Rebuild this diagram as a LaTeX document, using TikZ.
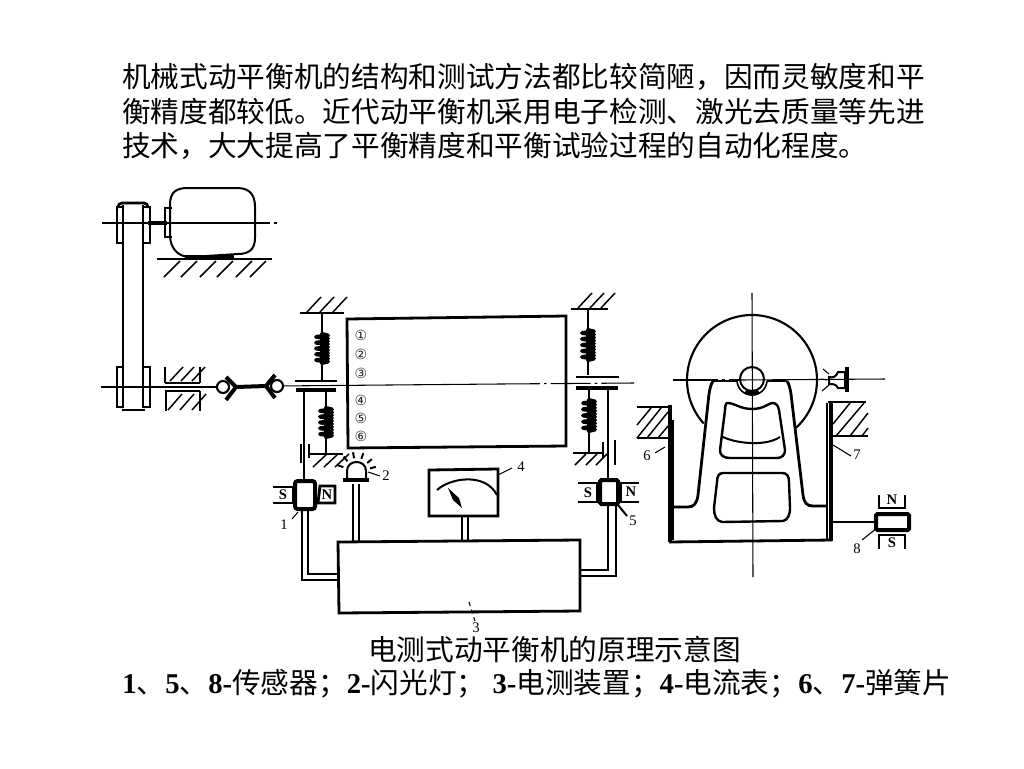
\documentclass[tikz,border=0pt]{standalone}
\usepackage{fontspec}
\setmainfont{Liberation Serif}
\newfontfamily\cjk{Noto Sans CJK SC}
\newfontfamily\djfont{DejaVu Sans}
\usetikzlibrary{calc}
\tikzset{
  x=0.75pt,y=-0.75pt,
  thinl/.style={line width=0.8pt,black},
  med/.style={line width=1.5pt,black},
  thick1/.style={line width=2.1pt,black},
  heavy/.style={line width=3pt,black},
  hatchl/.style={line width=1.1pt,black},
  axisl/.style={line width=0.8pt,black},
  dashax/.style={line width=0.8pt,black,dash pattern=on 60pt off 3pt on 2pt off 3pt},
  coil/.style={line width=3pt,black,line join=round,line cap=round},
  lab/.style={font=\fontsize{11}{12}\selectfont,inner sep=0pt},
  mag/.style={font=\fontsize{11}{12}\bfseries\selectfont,inner sep=0pt},
  circn/.style={font=\djfont\fontsize{10.5}{11}\selectfont,inner sep=0pt,text=black!85},
  body/.style={font=\fontsize{21.5}{24}\selectfont,inner sep=0pt,anchor=west},
}
% spring: x, ytop, ybottom
\newcommand{\mspring}[3]{%
  \draw[coil] ({#1},{#2})
    \foreach \k in {0,1,2,3,4}{ -- ({#1+6},{#2+(\k+0.25)*(#3-#2)/5}) -- ({#1-6},{#2+(\k+0.5)*(#3-#2)/5}) -- ({#1+6},{#2+(\k+0.75)*(#3-#2)/5}) -- ({#1},{#2+(\k+1)*(#3-#2)/5}) };
}
% hatch: list of x bottoms, y bottom, dx, dy
\newcommand{\mhatch}[4]{%
  \foreach \hx in {#1}{\draw[hatchl] (\hx,#2) -- ++(#3,#4);}
}
\begin{document}
\begin{tikzpicture}
\useasboundingbox (0,0) rectangle (1024,768);
\fill[white] (0,0) rectangle (1024,768);

% ---- text
\node[body] (t1) at (122,77) {\cjk 机械式动平衡机的结构和测试方法都比较简陋，因而灵敏度和平};
\node[body] (t2) at (122,112) {\cjk 衡精度都较低。近代动平衡机采用电子检测、激光去质量等先进};
\node[body] (t3) at (122,146) {\cjk 技术，大大提高了平衡精度和平衡试验过程的自动化程度。};
\node[body] (cap) at (368,649) {\cjk 电测式动平衡机的原理示意图};
\node[body] (leg) at (122,684) {\textbf{1}{\cjk 、}\textbf{5}{\cjk 、}\textbf{8-}{\cjk 传感器；}\textbf{2-}{\cjk 闪光灯；} \textbf{3-}{\cjk 电测装置；}\textbf{4-}{\cjk 电流表；}\textbf{6}{\cjk 、}\textbf{7-}{\cjk 弹簧片}};

% ---- motor and belt
\draw[med] (170,205) .. controls (170,192) and (176,188) .. (188,188) -- (237,188)
  .. controls (250,188) and (255,195) .. (255,207) -- (255,238)
  .. controls (255,250) and (248,254) .. (238,254) -- (190,257)
  .. controls (178,257) and (170,248) .. (170,235) -- cycle;
\draw[thick1] (172,208) -- (165,208) -- (165,237) -- (172,237);
\draw[heavy] (148,223) -- (167,223);
\draw[axisl] (102,223) -- (190,223);
\draw[dashax] (190,223) -- (278,223);
\draw[thick1] (157,259) -- (272,259);
\draw[heavy] (185,257) -- (234,257);
\mhatch{164,181,200,217,236,250}{277}{16}{-16}
% pulleys
\draw[thick1] (123,408) -- (123,205) (143,408) -- (143,205);
\draw[thick1,rounded corners=3pt] (118,208) -- (118,203) -- (148,203) -- (148,208);
\draw[med] (117,207) rectangle (123,243);
\draw[thick1] (143,207) -- (150,207) -- (150,243) -- (143,243);
\draw[med] (117,367) rectangle (123,407);
\draw[med] (143,367) -- (150,367) -- (150,407) -- (143,407);
\draw[thick1] (122,410) -- (145,410);
% lower shaft
\coordinate (ax0) at (101,387);
\coordinate (ax1) at (217,387);
\draw[axisl] (ax0) -- (ax1);
% bearing block
\draw[thick1] (165,383) -- (200,383);
\draw[med] (165,367) -- (165,383) (200,367) -- (200,383);
\mhatch{170,181,192}{381}{13}{-14}
\draw[thick1] (165,391) -- (200,391);
\draw[med] (166,391) -- (166,411) (200,391) -- (200,411);
\mhatch{168,180,192}{410}{14}{-16}
% joints
\draw[heavy,line join=miter] (226,377) -- (236,387) -- (226,400);
\draw[heavy,line join=miter] (275,375) -- (266,386) -- (275,398);
\draw[heavy] (236,387) -- (266,386);
\node[circle,draw,fill=white,line width=1.6pt,minimum size=9pt,inner sep=0pt] (j1) at (223,387) {};
\node[circle,draw,fill=white,line width=1.6pt,minimum size=9pt,inner sep=0pt] (j2) at (277,386) {};

% ---- drum
\draw[thick1] (347,319) -- (566,316) -- (566,446) -- (348,448) -- cycle;
\draw[axisl] (j2) -- (500,384);
\draw[axisl,dash pattern=on 30pt off 3pt on 2pt off 3pt] (500,384) -- (634,383);
\node[circn] (n1) at (361,335) {①};
\node[circn] (n2) at (361,354) {②};
\node[circn] (n3) at (361,373) {③};
\node[circn] (n4) at (361,400) {④};
\node[circn] (n5) at (361,418) {⑤};
\node[circn] (n6) at (361,436) {⑥};

% ---- left suspension
\draw[thick1] (295,381) -- (337,381);
\draw[heavy] (296,390) -- (336,390);
\draw[thick1] (300,313) -- (344,313);
\mhatch{307,320,333}{312}{14}{-15}
\draw[thinl] (322,313) -- (322,381);
\mspring{322}{334}{363}
\draw[thinl] (326,390) -- (326,454);
\mspring{326}{408}{437}
\draw[thick1] (309,454) -- (343,454);
\draw[thick1] (309,444) -- (309,458);
\mhatch{313,324,335}{467}{14}{-13}
\draw[med] (301,444) -- (301,463);
\draw[med] (304,391) -- (304,481);

% ---- right suspension
\draw[thick1] (576,377) -- (619,377);
\draw[heavy] (576,388) -- (618,388);
\draw[thick1] (571,309) -- (608,309);
\mhatch{578,590,601}{308}{14}{-15}
\draw[thinl] (588,309) -- (588,375);
\mspring{588}{330}{360}
\draw[thinl] (589,388) -- (589,453);
\mspring{589}{400}{431}
\draw[thick1] (573,453) -- (603,453);
\draw[thick1] (603,442) -- (603,458);
\mhatch{575,586,596}{465}{11}{-11}
\draw[med] (608,388) -- (608,479);
\draw[thick1] (615,440) -- (615,465);

% ---- sensor 1
\draw[heavy,rounded corners=2pt] (295,481) rectangle (315,509);
\draw[thick1] (273,487) -- (293,487) -- (293,503) -- (273,503);
\node[mag] (s1) at (283,495) {S};
\draw[thick1] (335,486) -- (320,486) -- (318,503) -- (335,503) -- cycle;
\node[mag] (n1m) at (327,495) {N};
\node[lab] (l1) at (284,525) {1};
\draw[thinl] (292,519) -- (298,512);

% ---- lamp
\draw[heavy] (343,480) -- (369,480);
\draw[med] (347,478) -- (347,471) .. controls (347,459) and (366,459) .. (366,471) -- (366,478);
\foreach \a in {-160,-130,-100,-70,-40,-15}{\draw[med] (356.5,472) ++(\a:14) -- ++(\a:6);}
\node[lab] (l2) at (386,476) {2};
\draw[thinl] (368,472) -- (380,476);
\draw[med] (353,484) -- (353,542) (359,484) -- (359,542);

% ---- meter
\draw[thick1] (429,470) -- (498,469) -- (498,516) -- (429,516) -- cycle;
\draw[med] (437,490) .. controls (450,478) and (485,472) .. (497,495);
\fill[black] (448,488) -- (459,498) -- (462,508) -- (453,500) -- cycle;
\draw[med] (462,516) -- (462,542) (468,516) -- (468,542);
\node[lab] (l4) at (521,467) {4};
\draw[thinl] (498,475) -- (512,468);

% ---- sensor 5
\draw[heavy,rounded corners=1pt] (600,480) rectangle (618,504);
\draw[thick1] (578,483) -- (597,483) -- (597,502) -- (578,502);
\node[mag] (s5) at (588,493) {S};
\draw[thick1] (639,483) -- (621,483) -- (621,502) -- (639,502);
\node[mag] (n5m) at (631,492) {N};
\node[lab] (l5) at (633,521) {5};
\draw[med] (618,505) -- (627,516);

% ---- electronics box and wiring
\draw[thick1] (338,542) -- (580,540) -- (580,611) -- (339,613) -- cycle;
\draw[med] (302,509) -- (302,580) -- (338,580);
\draw[med] (308,509) -- (308,574) -- (338,574);
\draw[med] (608,505) -- (608,570) -- (580,570);
\draw[med] (616,505) -- (616,576) -- (580,576);
\node[lab] (l3) at (476,628) {3};
\draw[thinl,dashed] (469,602) -- (475,621);

% ---- end view: wheel
\draw[line width=1.6pt] plot[domain=138:407.5,samples=80,smooth] ({752+65*cos(\x)},{380+65*sin(\x)});
\draw[line width=1.5pt] (752,379) circle (9pt);
\draw[line width=1.2pt] plot[domain=5:175,samples=30,smooth] ({752+15*cos(\x)},{380+15*sin(\x)});
\draw[heavy] plot[domain=60:120,samples=10] ({752+13.5*cos(\x)},{380+13.5*sin(\x)});
% axes
\draw[line width=0.8pt,dash pattern=on 34pt off 3pt on 2pt off 3pt] (673,380) -- (740,380);
\draw[line width=0.8pt] (740,380) -- (885,379);
\draw[line width=0.8pt] (752,293) -- (753,577);
% bracket
\draw[thick1] (713,381) -- (737,381) (767,381) -- (787,381);
\draw[thick1] (713,381) .. controls (711,384) and (710,388) .. (709,394) -- (698,495)
  .. controls (697,503) and (694,507) .. (688,507) -- (673,507);
\draw[thick1] (787,381) .. controls (789,384) and (790,388) .. (791,394) -- (803,495)
  .. controls (804,503) and (807,506) .. (813,506) -- (827,506);
% windows
\draw[line width=1.8pt] (727,403) .. controls (735,403) and (740,409) .. (752,409) .. controls (764,409) and (769,403) .. (772,403)
  .. controls (776,403) and (778,405) .. (779,410) -- (785,450)
  .. controls (785,455) and (782,458) .. (777,458) -- (730,458)
  .. controls (723,458) and (720,455) .. (720,450) -- (725,410)
  .. controls (725,406) and (726,403) .. (727,403) -- cycle;
\draw[med] (723,437) .. controls (735,443) and (765,447) .. (780,437);
\draw[line width=1.8pt] (723,473) -- (782,473) .. controls (787,473) and (789,476) .. (789,482)
  -- (790,508) .. controls (790,516) and (787,520) .. (783,521) -- (722,522)
  .. controls (716,521) and (714,515) .. (714,508) -- (717,482)
  .. controls (717,476) and (719,473) .. (723,473) -- cycle;
% base and plates
\draw[heavy] (670,405) -- (670,542);
\draw[med] (673,420) -- (673,540);
\draw[thick1] (669,542) -- (832,540);
\draw[med] (827,403) -- (827,540);
\draw[heavy] (830.5,403) -- (830.5,541);
% hatched blocks
\draw[thick1] (637,407) -- (668,407);
\draw[thick1] (637,438) -- (668,438);
\draw[hatchl] (637,425) -- (651,408) (637,438) -- (661,408) (647,438) -- (668,412) (658,438) -- (668,426);
\draw[thick1] (828,402) -- (866,402);
\draw[thick1] (832,436) -- (868,436);
\draw[hatchl] (833,424) -- (850,403) (836,436) -- (864,403) (850,436) -- (868,413) (862,436) -- (868,428);
% end-view lamp
\draw[med] (829,377) .. controls (833,378) and (836,377) .. (838,372) -- (845,372) -- (845,388) -- (838,388)
  .. controls (836,384) and (833,384) .. (829,384) -- cycle;
\draw[heavy] (847,367) -- (847,392);
\draw[thinl] (823,369) -- (829,374) (821,379) -- (827,380) (822,391) -- (829,385);
% labels 6,7
\node[lab] (l6) at (647,456) {6};
\draw[thinl] (655,453) -- (665,447);
\node[lab] (l7) at (857,455) {7};
\draw[thinl] (833,445) -- (851,456);
% sensor 8
\draw[med] (832,522) -- (875,522);
\draw[heavy,rounded corners=1pt] (876,514) rectangle (909,530);
\draw[thick1] (879,495) -- (879,508) -- (905,508) -- (905,495);
\node[mag] (n8) at (892,500) {N};
\draw[thick1] (879,549) -- (879,535) -- (905,535) -- (905,549);
\node[mag] (s8) at (892,543) {S};
\node[lab] (l8) at (857,549) {8};
\draw[thinl] (862,540) -- (877,528);
\end{tikzpicture}
\end{document}
